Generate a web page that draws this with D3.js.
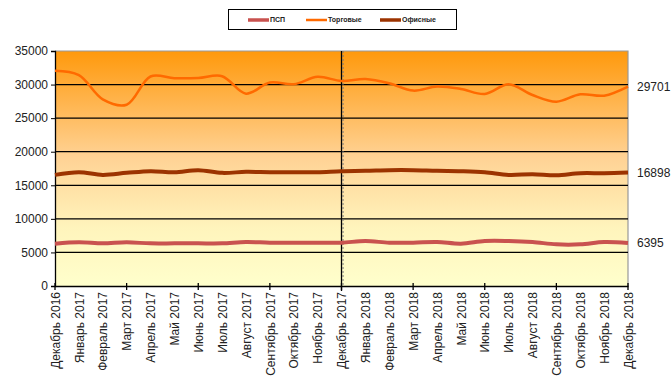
<!DOCTYPE html>
<html><head><meta charset="utf-8">
<script src="https://cdn.jsdelivr.net/npm/d3@7"></script>
<style>body{margin:0;background:#fff;}svg{display:block;font-family:"Liberation Sans",Arial,sans-serif;}</style>
</head><body><svg id="c" width="672" height="378"></svg>
<script>
const months = ["Декабрь 2016","Январь 2017","Февраль 2017","Март 2017","Апрель 2017","Май 2017","Июнь 2017","Июль 2017","Август 2017","Сентябрь 2017","Октябрь 2017","Ноябрь 2017","Декабрь 2017","Январь 2018","Февраль 2018","Март 2018","Апрель 2018","Май 2018","Июнь 2018","Июль 2018","Август 2018","Сентябрь 2018","Октябрь 2018","Ноябрь 2018","Декабрь 2018"];
const psp =    [6300,6500,6350,6500,6350,6350,6350,6350,6550,6450,6450,6450,6450,6700,6450,6450,6550,6300,6700,6700,6550,6200,6200,6550,6395];
const torg =   [32050,31400,27800,27000,31200,30950,30980,31250,28650,30300,30050,31150,30530,30830,30200,29100,29700,29350,28600,30050,28450,27450,28550,28350,29701];
const ofis =   [16550,16950,16550,16850,17100,16950,17250,16850,17000,16950,16950,16950,17100,17150,17250,17250,17150,17100,16950,16550,16650,16500,16800,16800,16898];
const yTicks = [0,5000,10000,15000,20000,25000,30000,35000];
const seriesNames = ["ПСП","Торговые","Офисные"];
const seriesColors = ["#C9524F","#FF6A00","#9C3300"];
const seriesWidths = [4,2.5,4];
const markerMonth = "Декабрь 2017";

const svg = d3.select("#c");
const L=55, R=628, T=51, B=286;
const x = d3.scalePoint().domain(months).range([L,R]).padding(0);
const y = d3.scaleLinear().domain([0,35000]).range([B,T]);

const defs = svg.append("defs");
const g = defs.append("linearGradient").attr("id","bg").attr("x1",0).attr("y1",0).attr("x2",0).attr("y2",1);
g.append("stop").attr("offset","0").attr("stop-color","#FF990C");
g.append("stop").attr("offset","0.45").attr("stop-color","#FFD294");
g.append("stop").attr("offset","0.75").attr("stop-color","#FFF4BC");
g.append("stop").attr("offset","1").attr("stop-color","#FFFFCC");
svg.append("rect").attr("x",L).attr("y",T).attr("width",R-L).attr("height",B-T).attr("fill","url(#bg)");

// frame
svg.append("path").attr("d",`M${L},${T}H${R}V${B}`).attr("fill","none").attr("stroke","#999").attr("stroke-width",1.2);

// gridlines
svg.append("g").selectAll("line").data(yTicks.filter(d=>d>0&&d<35000)).join("line")
  .attr("x1",L).attr("x2",R).attr("y1",d=>y(d)).attr("y2",d=>y(d))
  .attr("stroke","#000").attr("stroke-width",1.3);

// y axis
const ya = svg.append("g").attr("transform",`translate(${L},0)`)
  .call(d3.axisLeft(y).tickValues(yTicks).tickSize(4).tickPadding(3).tickFormat(d3.format("d")));
ya.select(".domain").attr("stroke","#000").attr("stroke-width",1.3);
ya.selectAll(".tick line").attr("stroke","#000");
ya.selectAll("text").attr("font-size",12).attr("fill","#222").attr("font-family","Liberation Sans, Arial, sans-serif");

// x axis
const xa = svg.append("g").attr("transform",`translate(0,${B})`)
  .call(d3.axisBottom(x).tickSize(0).tickPadding(0));
xa.select(".domain").attr("stroke","#000").attr("stroke-width",1.3);
xa.selectAll(".tick text").attr("font-size",12).attr("fill","#222")
  .attr("font-family","Liberation Sans, Arial, sans-serif")
  .attr("text-anchor","end").attr("dy","0.35em")
  .attr("transform","translate(0,6) rotate(-90)").attr("x",0).attr("y",0);
svg.append("g").selectAll("line").data(months.filter((d,i)=>i%3===0)).join("line")
  .attr("x1",d=>x(d)).attr("x2",d=>x(d)).attr("y1",B-3).attr("y2",B+4)
  .attr("stroke","#000").attr("stroke-width",1.3);

// vertical marker
svg.append("line").attr("x1",x(markerMonth)).attr("x2",x(markerMonth)).attr("y1",T).attr("y2",B+5)
  .attr("stroke","#000").attr("stroke-width",1.3);
svg.append("line").attr("x1",x(markerMonth)+1.5).attr("x2",x(markerMonth)+1.5).attr("y1",T).attr("y2",B)
  .attr("stroke","#777").attr("stroke-width",1).attr("stroke-dasharray","2,2");

// lines
const data = [psp,torg,ofis];
const line = d3.line().x((d,i)=>x(months[i])).y(d=>y(d)).curve(d3.curveCatmullRom.alpha(0.5));
data.forEach((s,k)=>{
  svg.append("path").datum(s).attr("d",line).attr("fill","none")
    .attr("stroke",seriesColors[k]).attr("stroke-width",seriesWidths[k]).attr("stroke-linejoin","round");
});

// end labels
data.forEach((s,k)=>{
  svg.append("text").attr("x",637).attr("y",y(s[s.length-1])).attr("dy","0.35em")
    .attr("font-size",12).attr("fill","#222").text(d3.format("d")(s[s.length-1]));
});

// legend
const lg = svg.append("g");
lg.append("rect").attr("x",228.5).attr("y",9.5).attr("width",228).attr("height",20).attr("fill","#fff").attr("stroke","#000").attr("stroke-width",1);
const lx = [248,306,380];
seriesNames.forEach((n,k)=>{
  lg.append("line").attr("x1",lx[k]).attr("x2",lx[k]+21).attr("y1",20).attr("y2",20)
    .attr("stroke",seriesColors[k]).attr("stroke-width",k===1?2.5:3.5);
  lg.append("text").attr("x",lx[k]+22).attr("y",20).attr("dy","0.35em")
    .attr("font-size",7).attr("font-weight","bold").attr("fill","#222").text(n);
});
</script></body></html>
